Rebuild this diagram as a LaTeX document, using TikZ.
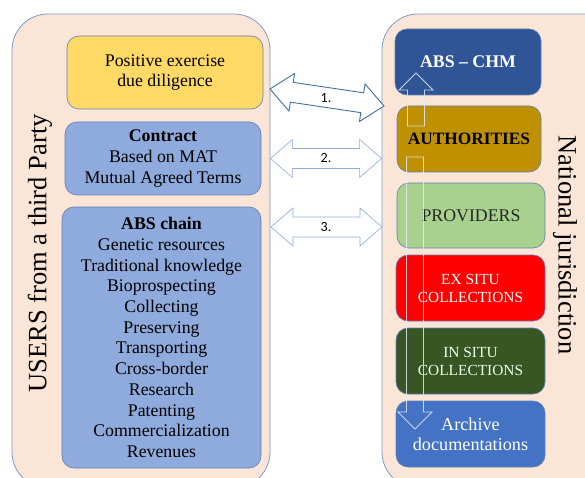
\documentclass[tikz,border=0pt]{standalone}
\usepackage{fontspec}
\setmainfont{Liberation Serif}
\newfontfamily\numfont{Carlito}
\usetikzlibrary{calc}

\definecolor{panelfill}{HTML}{FBE5D6}
\definecolor{panelline}{HTML}{7F9BC8}
\definecolor{boxline}{HTML}{5F7FB8}
\definecolor{duefill}{HTML}{FFD966}
\definecolor{bluefill}{HTML}{8FAADC}
\definecolor{chmfill}{HTML}{2F5597}
\definecolor{authfill}{HTML}{BF9000}
\definecolor{provfill}{HTML}{A9D18E}
\definecolor{exfill}{HTML}{FF0000}
\definecolor{infill}{HTML}{375623}
\definecolor{archfill}{HTML}{4472C4}
\definecolor{arrowone}{HTML}{41719C}
\definecolor{arrowtwo}{HTML}{8FAADC}
\definecolor{vline}{HTML}{E4EAF5}

\tikzstyle{panel}=[draw=panelline,fill=panelfill,rounded corners=36pt,line width=0.8pt]
\tikzstyle{box}=[draw=boxline,rounded corners=12pt,inner sep=0pt,align=center,line width=0.6pt,
  font=\fontsize{17.8}{20.7}\selectfont]
\tikzstyle{side}=[font=\fontsize{26.5}{30}\selectfont,inner sep=0pt]
\tikzstyle{bigarrow}=[fill=white,line join=miter]
\tikzstyle{numlbl}=[font=\numfont\fontsize{14}{16}\selectfont,inner sep=0pt]

% double headed block arrow between two points
\newcommand{\dblarrow}[3]{%
  \draw[#1] (#2)
    -- ($(#2)!22pt!(#3)!19pt!90:(#3)$)
    -- ($(#2)!22pt!(#3)!10pt!90:(#3)$)
    -- ($(#3)!22pt!(#2)!10pt!-90:(#2)$)
    -- ($(#3)!22pt!(#2)!19pt!-90:(#2)$)
    -- (#3)
    -- ($(#3)!22pt!(#2)!19pt!90:(#2)$)
    -- ($(#3)!22pt!(#2)!10pt!90:(#2)$)
    -- ($(#2)!22pt!(#3)!10pt!-90:(#3)$)
    -- ($(#2)!22pt!(#3)!19pt!-90:(#3)$)
    -- cycle;}
% single block arrow, tail to tip
\newcommand{\sglarrow}[3]{%
  \draw[#1] ($(#2)!8.5pt!90:(#3)$)
    -- ($(#3)!17pt!(#2)!8.5pt!-90:(#2)$)
    -- ($(#3)!17pt!(#2)!17pt!-90:(#2)$)
    -- (#3)
    -- ($(#3)!17pt!(#2)!17pt!90:(#2)$)
    -- ($(#3)!17pt!(#2)!8.5pt!90:(#2)$)
    -- ($(#2)!8.5pt!-90:(#3)$)
    -- cycle;}

\begin{document}
\begin{tikzpicture}[x=1pt,y=-1pt]
    \useasboundingbox (0,0) rectangle (585,478);
    \clip (0,0) rectangle (585,478);

    % the two sides
    \node[panel,minimum width=258pt,minimum height=474pt] (users) at (141,251) {};
    \node[panel,minimum width=248pt,minimum height=474pt] (natl) at (506,251) {};
    \node[side,rotate=90] (userslbl) at (40,253.5) {USERS from a third Party};
    \node[side,rotate=-90] (natllbl) at (565,245) {National jurisdiction};

    % users side
    \node[box,fill=duefill,minimum width=196pt,minimum height=73pt] (due) at (165,72.5)
        {Positive exercise\\due diligence};
    \node[box,fill=bluefill,minimum width=196pt,minimum height=73pt] (contract) at (163,158.5)
        {\textbf{Contract}\\Based on MAT\\Mutual Agreed Terms};
    \node[box,fill=bluefill,minimum width=199pt,minimum height=261pt] (chain) at (161.5,337.5)
        {\textbf{ABS chain}\\Genetic resources\\Traditional knowledge\\Bioprospecting\\Collecting\\
         Preserving\\Transporting\\Cross-border\\Research\\Patenting\\Commercialization\\Revenues};

    % national side
    \node[box,fill=chmfill,text=white,minimum width=146pt,minimum height=66pt] (chm) at (468,62)
        {\textbf{ABS -- CHM}};
    \node[box,fill=authfill,minimum width=144pt,minimum height=66pt,
        font=\fontsize{17.3}{20}\selectfont] (auth) at (469,139) {\textbf{AUTHORITIES}};
    \node[box,fill=provfill,text=black!85,minimum width=148pt,minimum height=65pt] (prov) at (471,215.5)
        {PROVIDERS};
    \node[box,fill=exfill,text=white,minimum width=149pt,minimum height=66pt,
        font=\fontsize{15.4}{18}\selectfont] (exsitu) at (470.5,288) {EX SITU\\COLLECTIONS};
    \node[box,fill=infill,text=green!8!white,minimum width=149pt,minimum height=66pt,
        font=\fontsize{15.4}{18}\selectfont] (insitu) at (470.5,361) {IN SITU\\COLLECTIONS};
    \node[box,fill=archfill,text=white,minimum width=149pt,minimum height=66pt,
        font=\fontsize{18.2}{20}\selectfont] (archive) at (470.5,434) {Archive\\documentations};

    % arrow ends
    \coordinate (a1l) at (270,89);
    \coordinate (a1r) at (384,106);
    \coordinate (a2l) at (users.east |- contract.east);
    \coordinate (a2r) at (natl.west |- contract.east);
    \coordinate (a3l) at (271,227);
    \coordinate (a3r) at (382,227);
    \coordinate (upt) at (416,126);
    \coordinate (uph) at (416,73);
    \coordinate (dnt) at (415,157);
    \coordinate (dnh) at (415,429);

    \dblarrow{bigarrow,draw=arrowone,line width=0.9pt}{a1l}{a1r}
    \dblarrow{bigarrow,draw=arrowtwo,line width=0.6pt}{a2l}{a2r}
    \dblarrow{bigarrow,draw=arrowtwo,line width=0.6pt}{a3l}{a3r}
    \sglarrow{draw=vline,line width=0.9pt,draw opacity=0.85}{upt}{uph}
    \sglarrow{draw=vline,line width=0.9pt,draw opacity=0.85}{dnt}{dnh}

    \node[numlbl] (n1) at (326,98) {1.};
    \node[numlbl] (n2) at (326,158) {2.};
    \node[numlbl] (n3) at (326,227) {3.};

\end{tikzpicture}
\end{document}
